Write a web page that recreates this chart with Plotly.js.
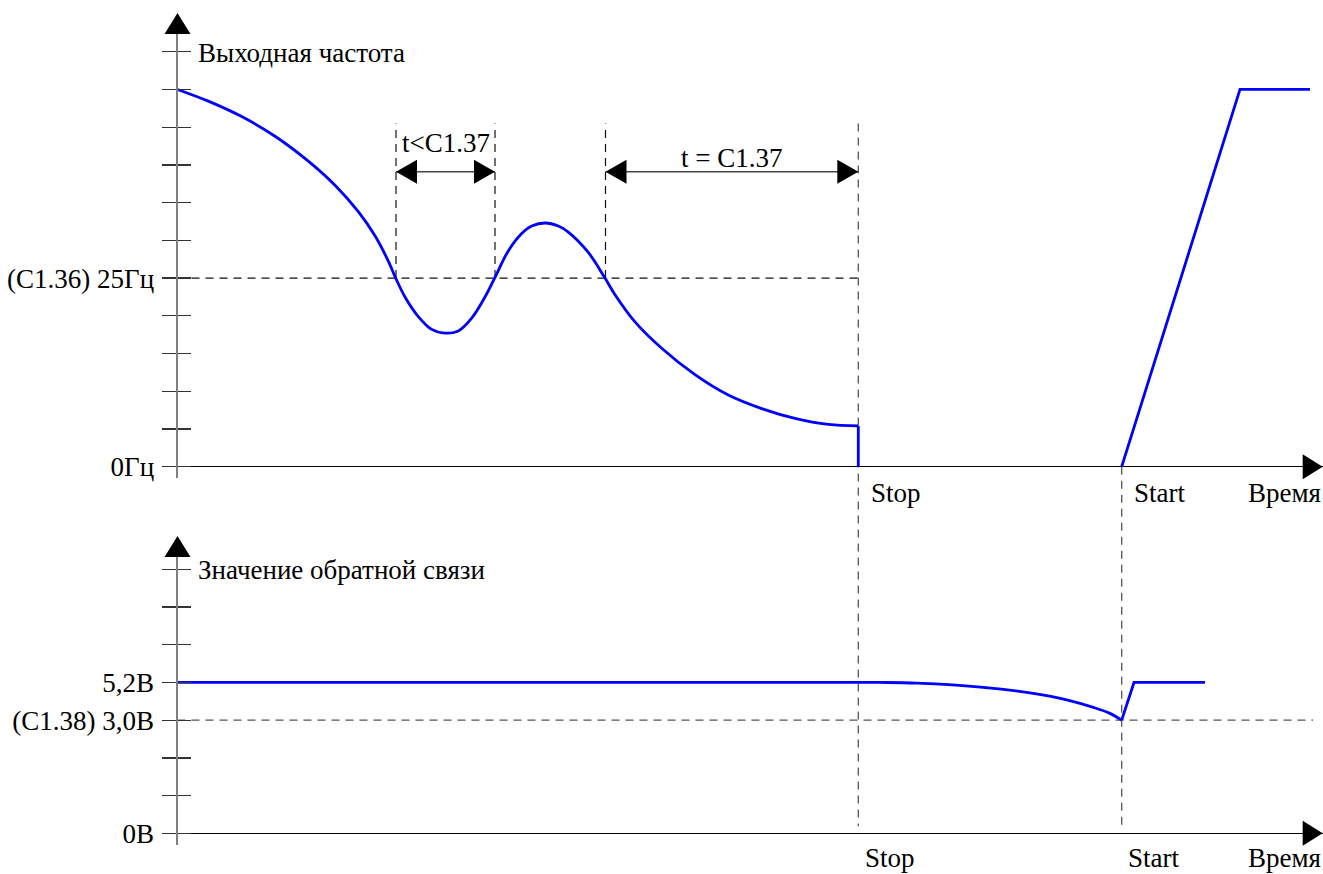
<!DOCTYPE html>
<html>
<head>
<meta charset="utf-8">
<script src="https://cdn.plot.ly/plotly-3.0.1.min.js"></script>
<style>html,body{margin:0;padding:0;background:#fff;}#chart{width:1323px;height:874px;}</style>
</head>
<body>
<div id="chart"></div>
<script>
// ---------- DATA ----------
// Output frequency (Hz) vs time (arbitrary time units)
const freqCurveTime = [0, 3.08, 6.42, 9.75, 13.08, 15.75, 18.08, 19.75, 21.08, 21.82, 22.75, 24.08, 25.42, 26.75, 28.08, 29.42, 30.75, 31.75, 33.08, 34.42, 35.42, 36.75, 38.08, 39.08, 41.08, 42.75, 43.75, 45.75, 48.42, 51.75, 55.08, 58.42, 61.75, 65.08, 68.08];
const freqCurveHz   = [50, 48.45, 46.4, 43.8, 40.5, 37.3, 33.8, 30.6, 27.25, 25.0, 22.5, 19.9, 18.2, 17.7, 18.0, 19.7, 22.5, 25.1, 28.6, 30.9, 31.9, 32.3, 31.9, 31.1, 28.4, 25.0, 22.8, 19.2, 15.7, 12.2, 9.5, 7.7, 6.4, 5.6, 5.4];
// drop at Stop, then (after a gap while stopped) the ramp after Start
const freqRestartTime = [68.08, 68.08, null, 94.42, 106.25, 113.25];
const freqRestartHz   = [5.4, 0, null, 0, 50, 50];

// Feedback value, in axis levels (level 4 = 5,2В, level 3 = 3,0В)
const fbCurveTime  = [0, 70.25, 73.92, 80.58, 85.58, 88.92, 91.58, 93.25, 94.42];
const fbCurveLevel = [4, 4, 3.98, 3.87, 3.71, 3.54, 3.34, 3.18, 3.0];
const fbRestartTime  = [94.42, 95.65, 102.75];
const fbRestartLevel = [3.0, 4, 4];

const stopTime = 68.08;
const startTime = 94.42;
const thresholdHz = 25;
const thresholdLevel = 3;
const dimStartTimes = [21.85, 42.8];
const dimEndTimes   = [31.75, 68.08];
const dimLabels     = ['t<C1.37', 't = C1.37'];

const freqTickVals = [0, 5, 10, 15, 20, 25, 30, 35, 40, 45, 50, 55];
const freqTickText = ['0Гц', '', '', '', '', '(C1.36) 25Гц', '', '', '', '', '', ''];
const fbTickVals = [0, 1, 2, 3, 4, 5, 6, 7];
const fbTickText = ['0В', '', '', '(C1.38) 3,0В', '5,2В', '', '', ''];

const topTitle = 'Выходная частота';
const bottomTitle = 'Значение обратной связи';
const timeLabel = 'Время';
const stopLabel = 'Stop';
const startLabel = 'Start';

// ---------- LAYOUT GEOMETRY ----------
const W = 1323, H = 874;
const AXIS_X_PX = 177.5, PX_PER_T = 10;
const TOP_ZERO_PX = 466.7, PX_PER_HZ = 7.545;
const BOT_ZERO_PX = 833.3, PX_PER_LVL = 37.71;
const TOP_DOM = [478, 30];   // pixel bottom, top of upper y axis
const BOT_DOM = [845, 553];  // pixel bottom, top of lower y axis
const FONT = 'Liberation Serif, Times New Roman, serif';
const FS = 27;

const tPx = t => AXIS_X_PX + t * PX_PER_T;
const hzPx = f => TOP_ZERO_PX - f * PX_PER_HZ;
const lvlPx = u => BOT_ZERO_PX - u * PX_PER_LVL;
const pX = px => px / W;
const pY = py => 1 - py / H;

const xRange = [0, (W - AXIS_X_PX) / PX_PER_T];
const topRange = [(TOP_ZERO_PX - TOP_DOM[0]) / PX_PER_HZ, (TOP_ZERO_PX - TOP_DOM[1]) / PX_PER_HZ];
const botRange = [(BOT_ZERO_PX - BOT_DOM[0]) / PX_PER_LVL, (BOT_ZERO_PX - BOT_DOM[1]) / PX_PER_LVL];

const blue = {color: '#0000ff', width: 2.8, simplify: false};
const blueSpline = {color: '#0000ff', width: 2.8, shape: 'spline', smoothing: 1, simplify: false};

const traces = [
  {x: freqCurveTime, y: freqCurveHz, xaxis: 'x', yaxis: 'y', mode: 'lines', line: blueSpline, hoverinfo: 'skip'},
  {x: freqRestartTime, y: freqRestartHz, xaxis: 'x', yaxis: 'y', mode: 'lines', line: blue, connectgaps: false, hoverinfo: 'skip'},
  {x: fbCurveTime, y: fbCurveLevel, xaxis: 'x2', yaxis: 'y2', mode: 'lines', line: blueSpline, hoverinfo: 'skip'},
  {x: fbRestartTime, y: fbRestartLevel, xaxis: 'x2', yaxis: 'y2', mode: 'lines', line: blue, hoverinfo: 'skip'},
  {x: [], y: [], xaxis: 'x', yaxis: 'y3', mode: 'lines', hoverinfo: 'skip'},
  {x: [], y: [], xaxis: 'x2', yaxis: 'y4', mode: 'lines', hoverinfo: 'skip'}
];

const xBase = {domain: [pX(AXIS_X_PX), 1], range: xRange, showline: false, showgrid: false, zeroline: false, showticklabels: false, ticks: '', fixedrange: true};
const yOut = (dom, rng, vals, text) => ({
  domain: [pY(dom[0]), pY(dom[1])], range: rng, showline: true, linecolor: '#808080', linewidth: 2,
  ticks: 'outside', ticklen: 14, tickwidth: 1.3, tickcolor: '#333', tickvals: vals, ticktext: text,
  tickfont: {family: FONT, size: FS, color: '#000'}, ticklabelstandoff: 2,
  zeroline: true, zerolinecolor: '#000', zerolinewidth: 1.5, showgrid: false, fixedrange: true
});
const yIn = (dom, rng, vals, over, anchor) => ({
  domain: [pY(dom[0]), pY(dom[1])], range: rng, overlaying: over, anchor: anchor, side: 'left',
  showline: false, ticks: 'inside', ticklen: 13, tickwidth: 1.3, tickcolor: '#333', tickvals: vals,
  showticklabels: false, zeroline: false, showgrid: false, fixedrange: true
});

const shapes = [];
const dashTop = {color: '#111', width: 1.2, dash: '8px,6px'};
const dashGray = {color: '#555', width: 1.3, dash: '8px,6px'};
// threshold line 25 Hz
shapes.push({type: 'line', xref: 'x', yref: 'y', x0: 0, x1: stopTime, y0: thresholdHz, y1: thresholdHz, line: dashTop, layer: 'below'});
// vertical guides in top panel
const DIM_TOP_HZ = 45.5, DIM_LINE_HZ = 39.1;
[dimStartTimes[0], dimEndTimes[0], dimStartTimes[1]].forEach(t => {
  shapes.push({type: 'line', xref: 'x', yref: 'y', x0: t, x1: t, y0: thresholdHz, y1: DIM_TOP_HZ, line: dashTop, layer: 'below'});
});
// Stop line crossing both panels
shapes.push({type: 'line', xref: 'paper', yref: 'paper', x0: pX(tPx(stopTime)), x1: pX(tPx(stopTime)), y0: pY(hzPx(DIM_TOP_HZ)), y1: pY(lvlPx(0.19)), line: dashGray, layer: 'below'});
// Start line
shapes.push({type: 'line', xref: 'paper', yref: 'paper', x0: pX(tPx(startTime)), x1: pX(tPx(startTime)), y0: pY(hzPx(0)), y1: pY(lvlPx(0.19)), line: dashGray, layer: 'below'});
// threshold 3,0В
shapes.push({type: 'line', xref: 'x2', yref: 'y2', x0: 0, x1: 113.55, y0: thresholdLevel, y1: thresholdLevel, line: dashGray, layer: 'below'});

// dimension arrows
dimStartTimes.forEach((t0, i) => {
  const t1 = dimEndTimes[i];
  shapes.push({type: 'line', xref: 'x', yref: 'y', x0: t0, x1: t1, y0: DIM_LINE_HZ, y1: DIM_LINE_HZ, line: {color: '#444', width: 1.5}});
  shapes.push({type: 'path', xref: 'x', yref: 'y', xsizemode: 'pixel', ysizemode: 'pixel', xanchor: t0, yanchor: DIM_LINE_HZ, path: 'M0,0 L21,12 L21,-12 Z', fillcolor: '#000', line: {width: 0}});
  shapes.push({type: 'path', xref: 'x', yref: 'y', xsizemode: 'pixel', ysizemode: 'pixel', xanchor: t1, yanchor: DIM_LINE_HZ, path: 'M0,0 L-21,12 L-21,-12 Z', fillcolor: '#000', line: {width: 0}});
});

// axis arrowheads
const upArrow = (py) => ({type: 'path', xref: 'paper', yref: 'paper', xsizemode: 'pixel', ysizemode: 'pixel', xanchor: pX(AXIS_X_PX), yanchor: pY(py), path: 'M-13,0 L13,0 L0,21 Z', fillcolor: '#000', line: {width: 0}});
const rightArrow = (py) => ({type: 'path', xref: 'paper', yref: 'paper', xsizemode: 'pixel', ysizemode: 'pixel', xanchor: pX(1302.7), yanchor: pY(py), path: 'M0,-12.5 L0,12.5 L20,0 Z', fillcolor: '#000', line: {width: 0}});
shapes.push(upArrow(34), rightArrow(hzPx(0)), upArrow(557), rightArrow(lvlPx(0)));

// ---------- TEXT ----------
const txt = (text, px, py, xanchor) => ({text: text, xref: 'paper', yref: 'paper', x: pX(px), y: pY(py), xanchor: xanchor, yanchor: 'middle', showarrow: false, font: {family: FONT, size: FS, color: '#000'}, borderpad: 0});
const annotations = [
  txt(topTitle, 197, 53, 'left'),
  txt(dimLabels[0], (tPx(dimStartTimes[0]) + tPx(dimEndTimes[0])) / 2, 143, 'center'),
  txt(dimLabels[1], (tPx(dimStartTimes[1]) + tPx(dimEndTimes[1])) / 2, 158, 'center'),
  txt(stopLabel, tPx(stopTime) + 12, 493, 'left'),
  txt(startLabel, tPx(startTime) + 11, 493, 'left'),
  txt(timeLabel, 1322, 493, 'right'),
  txt(bottomTitle, 197, 570, 'left'),
  txt(stopLabel, tPx(stopTime) + 6, 858, 'left'),
  txt(startLabel, tPx(startTime) + 5, 858, 'left'),
  txt(timeLabel, 1322, 858, 'right')
];

const layout = {
  width: W, height: H, margin: {l: 0, r: 0, t: 0, b: 0},
  paper_bgcolor: '#fff', plot_bgcolor: 'rgba(0,0,0,0)', showlegend: false,
  xaxis: Object.assign({anchor: 'y'}, xBase),
  xaxis2: Object.assign({anchor: 'y2'}, xBase),
  yaxis: Object.assign({anchor: 'x'}, yOut(TOP_DOM, topRange, freqTickVals, freqTickText)),
  yaxis2: Object.assign({anchor: 'x2'}, yOut(BOT_DOM, botRange, fbTickVals, fbTickText)),
  yaxis3: yIn(TOP_DOM, topRange, freqTickVals, 'y', 'x'),
  yaxis4: yIn(BOT_DOM, botRange, fbTickVals, 'y2', 'x2'),
  shapes: shapes, annotations: annotations
};

Plotly.newPlot('chart', traces, layout, {displayModeBar: false, staticPlot: true});
</script>
</body>
</html>
